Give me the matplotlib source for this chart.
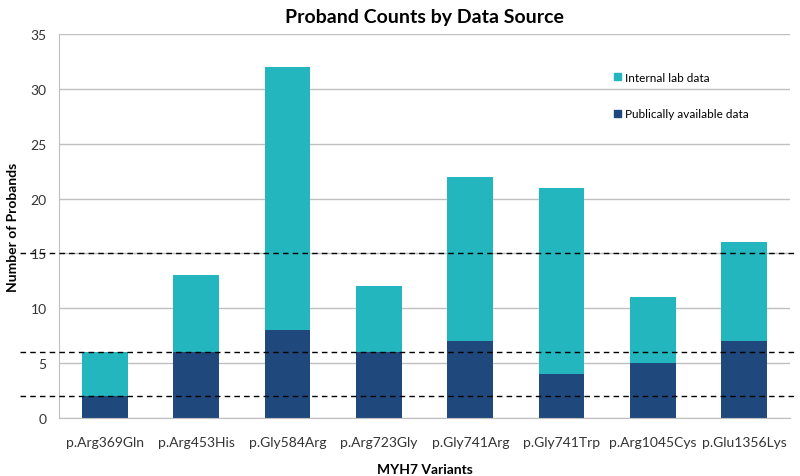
import numpy as np
import matplotlib.pyplot as plt
from matplotlib.patches import Patch

variants = ["p.Arg369Gln", "p.Arg453His", "p.Gly584Arg", "p.Arg723Gly",
            "p.Gly741Arg", "p.Gly741Trp", "p.Arg1045Cys", "p.Glu1356Lys"]
public_data = [2, 6, 8, 6, 7, 4, 5, 7]
internal_data = [4, 7, 24, 6, 15, 17, 6, 9]
cutoffs = [2, 6, 15]

c_public = "#1F497D"
c_internal = "#23B6BE"

plt.rcParams["font.family"] = ["Lato", "DejaVu Sans"]

fig = plt.figure(figsize=(8, 4.77), dpi=100)
ax = fig.add_axes([0.074, 0.1216, 0.9135, 0.805])

x = np.arange(len(variants))
ax.bar(x, public_data, width=0.5, color=c_public, zorder=2)
ax.bar(x, internal_data, width=0.5, bottom=public_data, color=c_internal, zorder=2)

ax.set_xlim(-0.5, len(variants) - 0.5)
ax.set_ylim(0, 35)
ax.set_yticks(range(0, 36, 5))
ax.yaxis.grid(True, color="#BFBFBF", linewidth=1)
ax.set_axisbelow(True)
for s in ["top", "right"]:
    ax.spines[s].set_visible(False)
ax.spines["left"].set_color("#BFBFBF")
ax.spines["bottom"].set_color("#BFBFBF")
ax.tick_params(length=0, labelsize=10, colors="#333333", pad=9)
ax.tick_params(axis="x", pad=13)
ax.set_xticks(x)
ax.set_xticklabels(variants)

# threshold lines run past the left axis
for c in cutoffs:
    ax.axhline(c, xmin=-0.054, xmax=1.005, color="black", linestyle="--",
               linewidth=1, clip_on=False, zorder=3, dashes=(4, 3))

ax.set_title("Proband Counts by Data Source", fontsize=14, fontweight="bold", pad=9)
ax.set_xlabel("MYH7 Variants", fontsize=10, fontweight="bold", labelpad=11)
ax.set_ylabel("Number of Probands", fontsize=10, fontweight="bold", labelpad=8)

handles = [Patch(color=c_internal, label="Internal lab data"),
           Patch(color=c_public, label="Publically available data")]
leg = ax.legend(handles=handles, loc="upper left", bbox_to_anchor=(0.745, 0.93),
                frameon=False, fontsize=8.5, handlelength=0.6, handleheight=0.6,
                handletextpad=0.3, labelspacing=2.2)

fig.savefig("out.png", dpi=100)
